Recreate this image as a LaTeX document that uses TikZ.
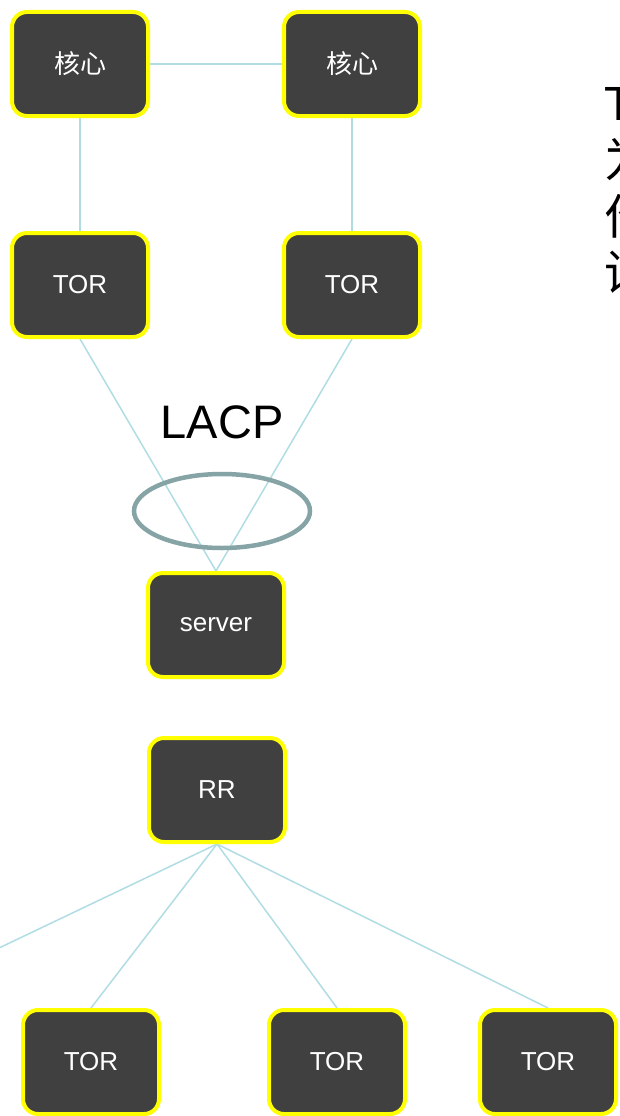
\documentclass[tikz,border=0pt]{standalone}
\usepackage{fontspec}
\setmainfont{Liberation Sans}
\newfontfamily\cjk{Noto Sans CJK SC}
\usetikzlibrary{backgrounds}
\definecolor{boxfill}{HTML}{404040}
\definecolor{boxedge}{HTML}{FFFF00}
\definecolor{linkc}{HTML}{B0DDE3}
\definecolor{ringc}{HTML}{86A3A6}
\tikzset{
  netbox/.style={draw=boxedge, line width=4pt, fill=boxfill, rounded corners=15pt,
    minimum width=136pt, minimum height=104pt, text=white, inner sep=0pt,
    font=\fontsize{26}{30}\selectfont},
  link/.style={draw=linkc, line width=1.5pt},
  bigtext/.style={inner sep=0pt, anchor=base west, font=\fontsize{48}{56}\selectfont}
}
\begin{document}
\begin{tikzpicture}[x=1pt,y=-1pt]
\useasboundingbox (0,0) rectangle (619,1116);
% nodes
\node[netbox] (c1) at (80,64) {\cjk 核心};
\node[netbox] (c2) at (352,64) {\cjk 核心};
\node[netbox] (t1) at (80,285) {TOR};
\node[netbox] (t2) at (352,285) {TOR};
\node[netbox] (srv) at (216,625) {server};
\node[netbox] (rr) at (217,790) {RR};
\node[netbox] (b1) at (91,1062) {TOR};
\node[netbox] (b2) at (337,1062) {TOR};
\node[netbox] (b3) at (548,1062) {TOR};
\coordinate (bout) at (-131,1010);
\node[inner sep=0pt, font=\fontsize{47}{56}\selectfont] (lacp) at (222,422) {LACP};
% right text (cut off at the edge, as in the reference)
\node[bigtext] (r1) at (604,120) {T};
\node[bigtext] (r2) at (604,177) {\cjk 为};
\node[bigtext] (r3) at (604,234) {\cjk 作};
\node[bigtext] (r4) at (604,290) {\cjk 设};
% connectors
\begin{pgfonlayer}{background}
\draw[link] (c1.east) -- (c2.west);
\draw[link] (c1.south) -- (t1.north);
\draw[link] (c2.south) -- (t2.north);
\draw[link] (t1.south) -- (srv.north);
\draw[link] (t2.south) -- (srv.north);
\draw[link] (rr.south) -- (bout);
\draw[link] (rr.south) -- (b1.north);
\draw[link] (rr.south) -- (b2.north);
\draw[link] (rr.south) -- (b3.north);
\end{pgfonlayer}
% LACP ring
\draw[ringc, line width=4.5pt] (222,511) ellipse [x radius=88pt, y radius=37pt];
\end{tikzpicture}
\end{document}
